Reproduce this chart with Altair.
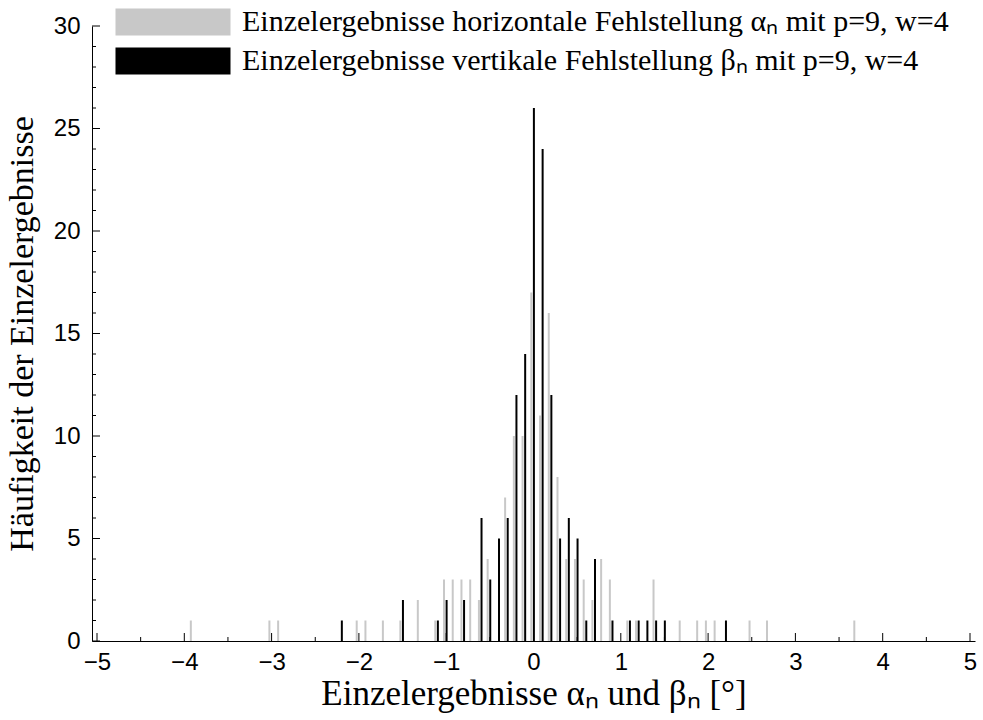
import altair as alt
import pandas as pd

# --- data (bin centres in degrees, counts) ---
bins_h = [-3.9, -3.0, -2.9, -2.0, -1.9, -1.7, -1.5, -1.3, -1.1, -1.0,
          -0.9, -0.8, -0.7, -0.6, -0.5, -0.3, -0.2, -0.1, 0.0, 0.1,
          0.2, 0.3, 0.4, 0.5, 0.6, 0.7, 0.8, 0.9, 1.1, 1.2,
          1.4, 1.7, 1.9, 2.0, 2.1, 2.5, 2.7, 3.7]
counts_h = [1, 1, 1, 1, 1, 1, 1, 2, 1, 3,
            3, 3, 3, 2, 4, 7, 10, 10, 17, 11,
            16, 8, 4, 4, 3, 2, 4, 3, 1, 1,
            3, 1, 1, 1, 1, 1, 1, 1]

bins_v = [-2.2, -1.5, -1.1, -1.0, -0.8, -0.6, -0.5, -0.4, -0.3, -0.2,
          -0.1, 0.0, 0.1, 0.2, 0.3, 0.4, 0.5, 0.6, 0.7, 0.9,
          1.1, 1.2, 1.3, 1.4, 1.5, 2.2]
counts_v = [1, 2, 1, 2, 2, 6, 3, 5, 6, 12,
            14, 26, 24, 12, 5, 6, 5, 1, 4, 1,
            1, 1, 1, 1, 1, 1]

name_h = "Einzelergebnisse horizontale Fehlstellung αₙ mit p=9, w=4"
name_v = "Einzelergebnisse vertikale Fehlstellung βₙ mit p=9, w=4"

x_major = [-5, -4, -3, -2, -1, 0, 1, 2, 3, 4, 5]
x_minor = [-4.5, -3.5, -2.5, -1.5, -0.5, 0.5, 1.5, 2.5, 3.5, 4.5]
y_major = [0, 5, 10, 15, 20, 25, 30]
y_minor = [i for i in range(1, 30) if i % 5 != 0]

x_title = "Einzelergebnisse αₙ und βₙ [°]"
y_title = "Häufigkeit der Einzelergebnisse"

W, H = 883, 615

df_h = pd.DataFrame({"x": bins_h, "n": counts_h, "serie": name_h})
df_v = pd.DataFrame({"x": bins_v, "n": counts_v, "serie": name_v})

SERIF = "Liberation Serif"
SANS = "Liberation Sans"

xscale = alt.Scale(domain=[-5, 5], nice=False, zero=False)
yscale = alt.Scale(domain=[0, 30], nice=False, zero=True)

xaxis = alt.Axis(values=x_major, format="d", ticks=False, grid=False,
                 domainColor="black", domainWidth=1,
                 labelFont=SANS, labelFontSize=24, labelColor="black",
                 labelPadding=9, labelFlush=False,
                 title=x_title, titleFont=SERIF, titleFontSize=35,
                 titleFontWeight="normal", titleColor="black", titlePadding=2)
yaxis = alt.Axis(values=y_major, format="d", ticks=False, grid=False,
                 domainColor="black", domainWidth=1,
                 labelFont=SANS, labelFontSize=24, labelColor="black",
                 labelPadding=12, labelFlush=False,
                 title=y_title, titleFont=SERIF, titleFontSize=34,
                 titleFontWeight="normal", titleColor="black", titlePadding=14)

color = alt.Color(
    "serie:N",
    scale=alt.Scale(domain=[name_h, name_v], range=["#c8c8c8", "#000000"]),
    legend=alt.Legend(title=None, orient="none", legendX=66, legendY=-19,
                      symbolType="M-4.26,-1H4.26V1H-4.26Z", symbolSize=729,
                      symbolStrokeWidth=0, labelFont=SERIF, labelFontSize=30,
                      labelColor="black", labelOffset=54, rowPadding=9,
                      padding=0, labelLimit=1200),
)

gray = alt.Chart(df_h).mark_bar(width=2, xOffset=-2.2).encode(
    x=alt.X("x:Q", scale=xscale, axis=xaxis),
    y=alt.Y("n:Q", scale=yscale, axis=yaxis),
    color=color,
)
black = alt.Chart(df_v).mark_bar(width=2, xOffset=0.4).encode(
    x=alt.X("x:Q", scale=xscale),
    y=alt.Y("n:Q", scale=yscale),
    color=alt.Color("serie:N"),
)

xt_major = alt.Chart(pd.DataFrame({"x": x_major})).mark_rule(
    color="black", strokeWidth=1
).encode(x=alt.X("x:Q", scale=xscale), y=alt.value(H), y2=alt.value(H - 8))
xt_minor = alt.Chart(pd.DataFrame({"x": x_minor})).mark_rule(
    color="black", strokeWidth=1
).encode(x=alt.X("x:Q", scale=xscale), y=alt.value(H), y2=alt.value(H - 4))
yt_major = alt.Chart(pd.DataFrame({"n": y_major})).mark_rule(
    color="black", strokeWidth=1
).encode(y=alt.Y("n:Q", scale=yscale), x=alt.value(0), x2=alt.value(8))
yt_minor = alt.Chart(pd.DataFrame({"n": y_minor})).mark_rule(
    color="black", strokeWidth=1
).encode(y=alt.Y("n:Q", scale=yscale), x=alt.value(0), x2=alt.value(4))

chart = alt.layer(gray, black, xt_major, xt_minor, yt_major, yt_minor).properties(
    width=W, height=H,
    autosize=alt.AutoSizeParams(type="none"),
    padding={"left": 92, "top": 26, "right": 8, "bottom": 79},
    background="white",
).configure_view(stroke=None)

chart.save("out.html", embed_options={"renderer": "svg", "actions": False})
